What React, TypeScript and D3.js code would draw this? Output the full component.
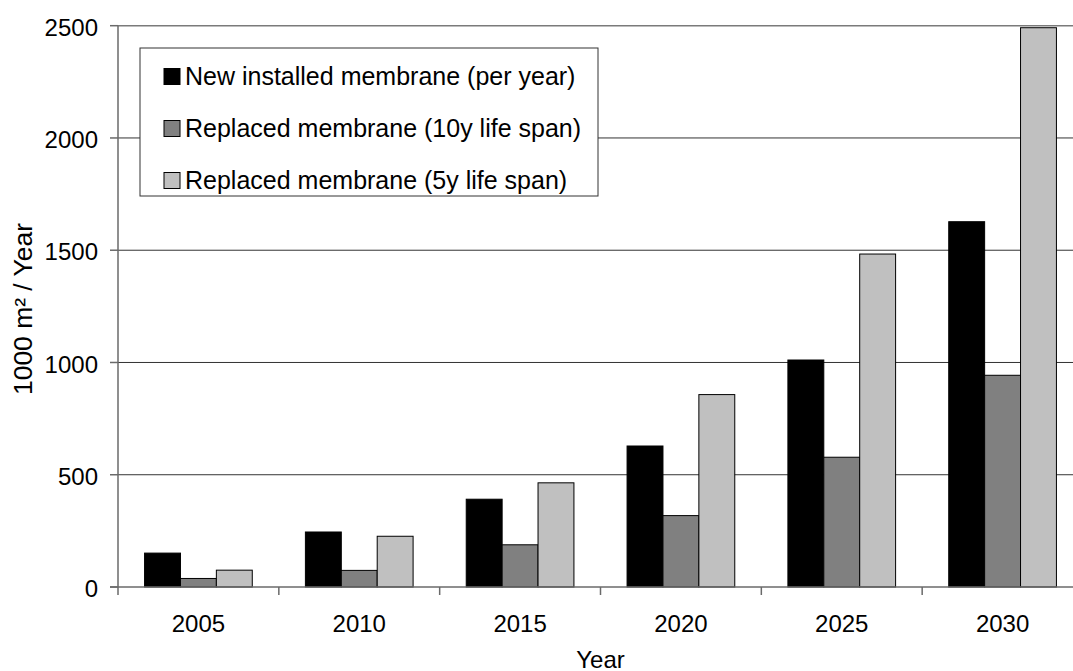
import React from "react";
import * as d3 from "d3";

const categories = ["2005", "2010", "2015", "2020", "2025", "2030"];
const seriesNames = [
  "New installed membrane (per year)",
  "Replaced membrane (10y life span)",
  "Replaced membrane (5y life span)",
];
const newInstalled = [151, 245, 391, 628, 1011, 1627];
const replaced10y = [38, 74, 188, 318, 578, 943];
const replaced5y = [75, 226, 464, 857, 1483, 2491];
const yTicks = [0, 500, 1000, 1500, 2000, 2500];
const seriesColors = ["#000000", "#808080", "#c0c0c0"];

const W = 1073;
const H = 671;
const FONT = "'Liberation Sans', Arial, sans-serif";

export default function App() {
  const series = [newInstalled, replaced10y, replaced5y];
  const left = 118;
  const right = 1083;
  const top = 25.7;
  const bottom = 587;

  const x = d3.scaleBand<string>().domain(categories).range([left, right]).paddingInner(0).paddingOuter(0);
  const barW = 35.9;
  const groupW = barW * 3;
  const y = d3.scaleLinear().domain([0, 2500]).range([bottom, top]);

  return (
    <svg width={W} height={H} style={{ position: "absolute", left: 0, top: 0, background: "#fff" }} fontFamily={FONT}>
      <rect x={0} y={0} width={W} height={H} fill="#fff" />
      {/* gridlines */}
      {yTicks.filter((t) => t > 0).map((t) => (
        <line key={t} x1={left} x2={W} y1={y(t)} y2={y(t)} stroke={t === 2500 ? "#7a7a7a" : "#333"} strokeWidth={t === 2500 ? 1.5 : 1} />
      ))}
      {/* bars */}
      {categories.map((c, i) => {
        const x0 = (x(c) as number) + (x.bandwidth() - groupW) / 2;
        return series.map((s, j) => (
          <rect
            key={c + j}
            x={x0 + j * barW}
            y={y(s[i])}
            width={barW}
            height={bottom - y(s[i])}
            fill={seriesColors[j]}
            stroke="#000"
            strokeWidth={1}
          />
        ));
      })}
      {/* axes */}
      <line x1={left} x2={left} y1={top} y2={bottom + 8} stroke="#6a6a6a" strokeWidth={1.5} />
      <line x1={left - 8} x2={W} y1={bottom} y2={bottom} stroke="#6a6a6a" strokeWidth={1.5} />
      {yTicks.map((t) => (
        <g key={t}>
          <line x1={left - 8} x2={left} y1={y(t)} y2={y(t)} stroke="#6a6a6a" strokeWidth={1.5} />
          <text x={98} y={y(t)} dy="0.42em" textAnchor="end" fontSize={24} fill="#000">
            {t}
          </text>
        </g>
      ))}
      {categories.map((c, i) => (
        <g key={c}>
          {i > 0 && (
            <line x1={x(c) as number} x2={x(c) as number} y1={bottom} y2={bottom + 8} stroke="#6a6a6a" strokeWidth={1.5} />
          )}
          <text x={(x(c) as number) + x.bandwidth() / 2} y={632} textAnchor="middle" fontSize={24} fill="#000">
            {c}
          </text>
        </g>
      ))}
      {/* axis titles */}
      <text x={(left + right) / 2} y={668} textAnchor="middle" fontSize={24} fill="#000">
        Year
      </text>
      <text
        transform={`translate(32,309) rotate(-90)`}
        textAnchor="middle"
        fontSize={25}
        fill="#000"
        textLength={172}
        lengthAdjust="spacingAndGlyphs"
      >
        1000 m² / Year
      </text>
      {/* legend */}
      <rect x={140} y={48} width={458} height={148} fill="#fff" stroke="#333" strokeWidth={1} />
      {seriesNames.map((n, j) => (
        <g key={n}>
          <rect x={164} y={68.5 + j * 52} width={16} height={16} fill={seriesColors[j]} stroke="#000" strokeWidth={1} />
          <text x={185} y={85 + j * 52} fontSize={25} fill="#000">
            {n}
          </text>
        </g>
      ))}
    </svg>
  );
}
